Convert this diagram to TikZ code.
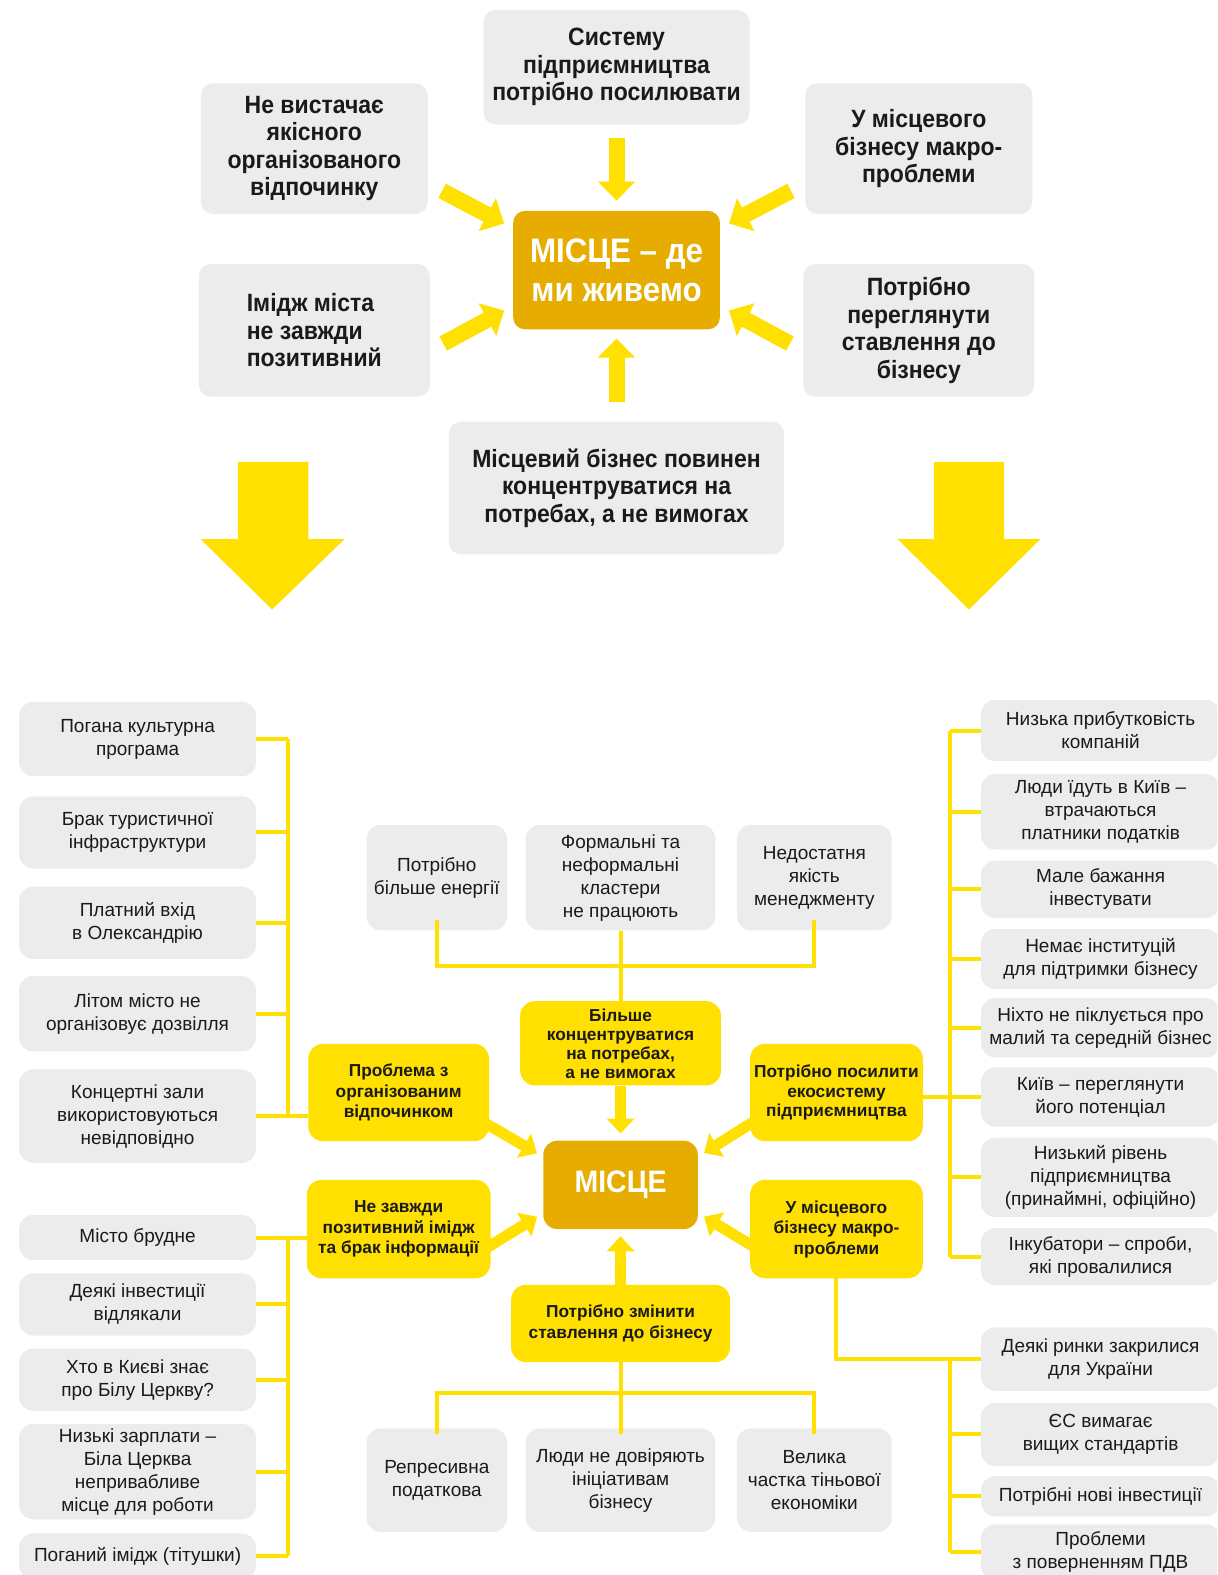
\documentclass[tikz,border=0pt]{standalone}
\usepackage{fontspec}
\setmainfont{Liberation Sans}
\newfontfamily\condb[FakeStretch=0.92]{Liberation Sans}
\usetikzlibrary{arrows.meta}
\definecolor{gbox}{HTML}{ECECEC}
\definecolor{yel}{HTML}{FFE000}
\definecolor{dk}{HTML}{E6AD00}
\definecolor{ink}{HTML}{1A1A1A}
\tikzset{
  sz/.style 2 args={minimum width={1.0041*#1pt}, minimum height={1.0041*#2pt}},
  gtop/.style={fill=gbox, rounded corners=12pt, inner sep=0pt, align=center, text=ink,
    font=\condb\bfseries\fontsize{25}{27.5}\selectfont},
  gb/.style={fill=gbox, rounded corners=14pt, inner sep=0pt, align=center, text=ink,
    font=\fontsize{19}{23}\selectfont},
  yb/.style={fill=yel, rounded corners=15pt, inner sep=0pt, align=center, text=ink,
    font=\bfseries\fontsize{17.3}{20.5}\selectfont},
  conn/.style={draw=yel, line width=4pt},
  tarr/.style={draw=yel, line width=16pt, -{Triangle[length=19pt, width=36pt]}},
  barr/.style={draw=yel, line width=11pt, -{Triangle[length=15pt, width=27pt]}},
}
\begin{document}
\begin{tikzpicture}[x=1.0041pt, y=-1.0041pt]
\path[use as bounding box] (0,0) rectangle (1212,1568.5);
\clip (0,0) rectangle (1212,1568.5);

% ---------- top section ----------
\node[gtop, sz={265}{114}] (sys) at (614,67) {Систему\\підприємництва\\потрібно посилювати};
\node[gtop, sz={226}{130}] (nv) at (313,148) {Не вистачає\\якісного\\організованого\\відпочинку};
\node[gtop, sz={226}{130}] (macro) at (915,148) {У місцевого\\бізнесу макро-\\проблеми};
\node[fill=dk, rounded corners=12pt, inner sep=0pt, align=center, text=white,
  font=\condb\bfseries\fontsize{34}{39}\selectfont, sz={206}{118}] (cen) at (614,269) {МІСЦЕ – де\\ми живемо};
\node[gtop, sz={230}{132}, align=left] (img) at (313,329) {Імідж міста\\не завжди\\позитивний};
\node[gtop, sz={230}{132}] (pr) at (915,329) {Потрібно\\переглянути\\ставлення до\\бізнесу};
\node[gtop, sz={334}{132}] (mb) at (614,486) {Місцевий бізнес повинен\\концентруватися на\\потребах, а не вимогах};

\draw[tarr, shorten <=13pt, shorten >=10pt] (sys.south) -- (cen.north);
\draw[tarr, shorten <=20pt, shorten >=9pt] (mb.north) -- (cen.south);
\draw[tarr, shorten <=16pt, shorten >=10pt] (nv.343) -- (cen.158);
\draw[tarr, shorten <=15pt, shorten >=10pt] (img.350) -- (cen.199);
\draw[tarr, shorten <=16pt, shorten >=10pt] (macro.197) -- (cen.22);
\draw[tarr, shorten <=15pt, shorten >=10pt] (pr.190) -- (cen.341);

% big decorative arrows
\fill[yel] (237,460) -- (307,460) -- (307,537) -- (343,537) -- (271,607) -- (200,537) -- (237,537) -- cycle;
\fill[yel] (930,460) -- (1000,460) -- (1000,537) -- (1036,537) -- (965,607) -- (894,537) -- (930,537) -- cycle;

% ---------- bottom section ----------
\coordinate (lx) at (287,0);
\coordinate (rx) at (946,0);
\coordinate (hbar) at (0,962);
\coordinate (hbar2) at (0,1387);

% center column
\node[fill=dk, rounded corners=14pt, inner sep=0pt, text=white,
  font=\condb\bfseries\fontsize{31}{34}\selectfont, sz={154}{88}] (cen2) at (618,1180) {МІСЦЕ};
\node[yb, sz={200}{84}, font=\bfseries\fontsize{17.3}{19}\selectfont] (more) at (618,1039) {Більше\\концентруватися\\на потребах,\\а не вимогах};
\node[yb, sz={218}{77}] (zm) at (618,1318) {Потрібно змінити\\ставлення до бізнесу};
\node[yb, sz={180}{97}] (prob) at (397,1088) {Проблема з\\організованим\\відпочинком};
\node[yb, sz={183}{98}] (nz) at (397,1224) {Не завжди\\позитивний імідж\\та брак інформації};
\node[yb, sz={172}{97}, font=\bfseries\fontsize{17.3}{19.5}\selectfont] (pos) at (833,1088) {Потрібно посилити\\екосистему\\підприємництва};
\node[yb, sz={172}{98}] (um) at (833,1224) {У місцевого\\бізнесу макро-\\проблеми};

\draw[barr, shorten >=7pt] (more.south) -- (cen2.north);
\draw[barr, shorten >=7pt] (zm.north) -- (cen2.south);
\draw[barr, shorten <=-6pt, shorten >=7pt] (prob.340) -- (cen2.160);
\draw[barr, shorten <=-6pt, shorten >=7pt] (nz.350) -- (cen2.200);
\draw[barr, shorten <=-6pt, shorten >=7pt] (pos.200) -- (cen2.20);
\draw[barr, shorten <=-6pt, shorten >=7pt] (um.190) -- (cen2.340);

% top grey row
\node[gb, sz={140}{105}] (e1) at (435,874) {Потрібно\\більше енергії};
\node[gb, sz={189}{105}] (e2) at (618,874) {Формальні та\\неформальні\\кластери\\не працюють};
\node[gb, sz={154}{105}] (e3) at (811,874) {Недостатня\\якість\\менеджменту};
\draw[conn] (e2.south) -- (more.north);
\draw[conn] ([yshift=11pt]e1.south) -- (e1.south |- hbar) -- (e3.south |- hbar) -- ([yshift=11pt]e3.south);

% bottom grey row
\node[gb, sz={140}{103}] (b1) at (435,1474) {Репресивна\\податкова};
\node[gb, sz={189}{103}] (b2) at (618,1474) {Люди не довіряють\\ініціативам\\бізнесу};
\node[gb, sz={154}{103}] (b3) at (811,1474) {Велика\\частка тіньової\\економіки};
\draw[conn] (zm.south) -- ([yshift=-6pt]b2.north);
\draw[conn] ([yshift=-6pt]b1.north) -- (b1.north |- hbar2) -- (b3.north |- hbar2) -- ([yshift=-6pt]b3.north);

% left group 1
\node[gb, sz={236}{74}] (l1) at (137,736) {Погана культурна\\програма};
\node[gb, sz={236}{72}] (l2) at (137,829) {Брак туристичної\\інфраструктури};
\node[gb, sz={236}{72}] (l3) at (137,919) {Платний вхід\\в Олександрію};
\node[gb, sz={236}{75}] (l4) at (137,1009.5) {Літом місто не\\організовує дозвілля};
\node[gb, sz={236}{93}] (l5) at (137,1111.5) {Концертні зали\\використовуються\\невідповідно};
\foreach \n in {l1,l2,l3,l4} \draw[conn] (\n.east) -- (\n.east -| lx);
\draw[conn] (l5.east) -- (l5.east -| prob.west);
\draw[conn] (l1.east -| lx) -- (l5.east -| lx);

% left group 2
\node[gb, sz={236}{45}] (l6) at (137,1232.5) {Місто брудне};
\node[gb, sz={236}{62}] (l7) at (137,1299) {Деякі інвестиції\\відлякали};
\node[gb, sz={236}{62}] (l8) at (137,1374) {Хто в Києві знає\\про Білу Церкву?};
\node[gb, sz={236}{95}] (l9) at (137,1465.5) {Низькі зарплати –\\Біла Церква\\непривабливе\\місце для роботи};
\node[gb, sz={236}{46}] (l10) at (137,1550) {Поганий імідж (тітушки)};
\draw[conn] (l6.east) -- (l6.east -| nz.west);
\foreach \n in {l7,l8,l9,l10} \draw[conn] (\n.east) -- (\n.east -| lx);
\draw[conn] (l6.east -| lx) -- (l10.east -| lx);

% right group 1
\node[gb, sz={238}{61}] (r1) at (1096,727.5) {Низька прибутковість\\компаній};
\node[gb, sz={238}{75}] (r2) at (1096,808.5) {Люди їдуть в Київ –\\втрачаються\\платники податків};
\node[gb, sz={238}{57}] (r3) at (1096,885.5) {Мале бажання\\інвестувати};
\node[gb, sz={238}{60}] (r4) at (1096,955) {Немає інституцій\\для підтримки бізнесу};
\node[gb, sz={238}{59}] (r5) at (1096,1023.5) {Ніхто не піклується про\\малий та середній бізнес};
\node[gb, sz={238}{59}] (r6) at (1096,1092.5) {Київ – переглянути\\його потенціал};
\node[gb, sz={238}{79}] (r7) at (1096,1172.5) {Низький рівень\\підприємництва\\(принаймні, офіційно)};
\node[gb, sz={238}{57}] (r8) at (1096,1251.5) {Інкубатори – спроби,\\які провалилися};
\foreach \n in {r1,r2,r3,r4,r5,r7,r8} \draw[conn] (\n.west) -- (\n.west -| rx);
\draw[conn] (r6.west) -- (r6.west -| pos.east);
\draw[conn] (r1.west -| rx) -- (r8.west -| rx);

% right group 2
\node[gb, sz={238}{63}] (q1) at (1096,1353.5) {Деякі ринки закрилися\\для України};
\node[gb, sz={238}{63}] (q2) at (1096,1428.5) {ЄС вимагає\\вищих стандартів};
\node[gb, sz={238}{40}] (q3) at (1096,1490) {Потрібні нові інвестиції};
\node[gb, sz={238}{56}] (q4) at (1096,1546) {Проблеми\\з поверненням ПДВ};
\draw[conn] (um.south) |- (q1.west);
\foreach \n in {q2,q3,q4} \draw[conn] (\n.west) -- (\n.west -| rx);
\draw[conn] (q1.west -| rx) -- (q4.west -| rx);
\end{tikzpicture}
\end{document}
